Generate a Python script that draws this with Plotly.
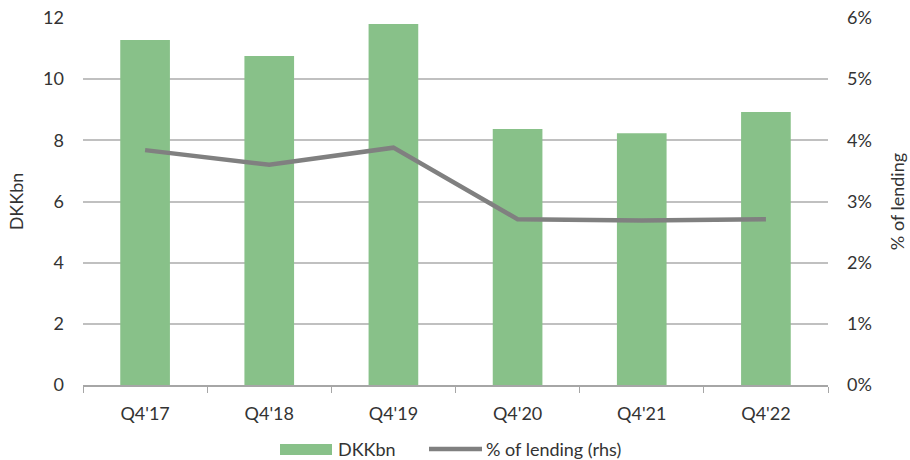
import plotly.graph_objects as go

# Quarterly figures
quarters = ["Q4'17", "Q4'18", "Q4'19", "Q4'20", "Q4'21", "Q4'22"]
dkkbn = [11.28, 10.76, 11.80, 8.37, 8.23, 8.93]
pct_of_lending = [3.84, 3.60, 3.88, 2.71, 2.69, 2.71]

left_ticks = [0, 2, 4, 6, 8, 10, 12]
right_ticks = [0, 1, 2, 3, 4, 5, 6]
right_tick_labels = [f"{v}%" for v in right_ticks]

FONT = "Lato"
FS = 18
TEXT = "#333333"
GRID = "#c0c0c0"
BAR_COLOR = "#88c189"
LINE_COLOR = "#808080"

W, H = 910, 460
ML, MR, MT, MB = 83, 82, 18, 75
PW, PH = W - ML - MR, H - MT - MB


def px(x):
    return (x - ML) / PW


def py(y):
    return (H - MB - y) / PH


fig = go.Figure()
fig.add_trace(go.Bar(
    x=quarters, y=dkkbn, name="DKKbn",
    marker=dict(color=BAR_COLOR, line=dict(width=0)),
    width=0.4, showlegend=False,
))
fig.add_trace(go.Scatter(
    x=quarters, y=pct_of_lending, name="% of lending (rhs)",
    mode="lines", yaxis="y2", showlegend=False,
    line=dict(color=LINE_COLOR, width=4.5),
))

# Legend row below the axis: swatches as shapes, labels as annotations
legend_y = 449
shapes = [
    dict(type="rect", xref="paper", yref="paper",
         x0=px(280), x1=px(332), y0=py(455), y1=py(444),
         fillcolor=BAR_COLOR, line=dict(width=0)),
    dict(type="line", xref="paper", yref="paper",
         x0=px(429), x1=px(482), y0=py(legend_y), y1=py(legend_y),
         line=dict(color=LINE_COLOR, width=4.5)),
]
annotations = [
    dict(text="DKKbn", xref="paper", yref="paper", x=px(337), y=py(legend_y),
         xanchor="left", yanchor="middle", showarrow=False, borderpad=0,
         font=dict(size=FS, color=TEXT)),
    dict(text="% of lending (rhs)", xref="paper", yref="paper", x=px(485), y=py(legend_y),
         xanchor="left", yanchor="middle", showarrow=False, borderpad=0,
         font=dict(size=FS, color=TEXT)),
]

fig.update_layout(
    width=W, height=H,
    margin=dict(l=ML, r=MR, t=MT, b=MB, autoexpand=False),
    paper_bgcolor="white", plot_bgcolor="white",
    font=dict(family=FONT, size=FS, color=TEXT),
    showlegend=False,
    shapes=shapes,
    annotations=annotations,
    xaxis=dict(
        type="category", showgrid=False,
        showline=True, linecolor="#a6a6a6", linewidth=1.5,
        ticks="outside", tickson="boundaries", ticklen=6, tickcolor="#a6a6a6",
        ticklabelstandoff=12,
    ),
    yaxis=dict(
        range=[0, 12], tickvals=left_ticks,
        showgrid=True, gridcolor=GRID, gridwidth=1.5,
        zeroline=False, showline=False, ticks="",
        ticklabelstandoff=18,
        title=dict(text="DKKbn", standoff=14, font=dict(size=FS)),
    ),
    yaxis2=dict(
        range=[0, 6], tickvals=right_ticks, ticktext=right_tick_labels,
        overlaying="y", side="right",
        showgrid=False, zeroline=False, showline=False, ticks="",
        ticklabelstandoff=18,
        title=dict(text="% of lending", standoff=20, font=dict(size=FS)),
    ),
)

fig.write_html("out.html")
